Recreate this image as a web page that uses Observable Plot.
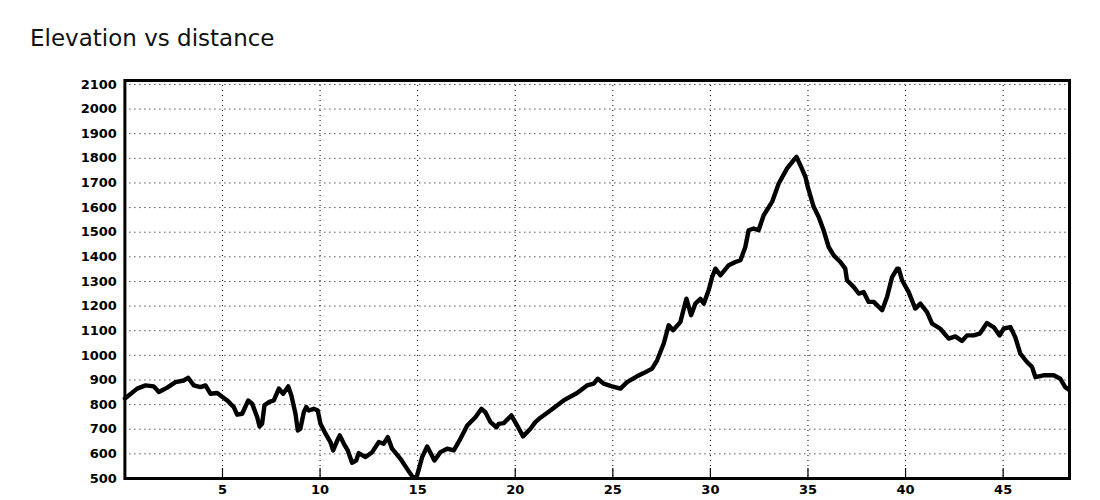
<!DOCTYPE html>
<html>
<head>
<meta charset="utf-8">
<script src="https://cdn.jsdelivr.net/npm/d3@7"></script>
<script src="https://cdn.jsdelivr.net/npm/@observablehq/plot@0.6"></script>
<style>
  html, body { margin: 0; padding: 0; background: #fff; }
  #wrap { position: relative; width: 1100px; height: 500px; overflow: hidden; }
  #title { position: absolute; left: 30px; top: 27px; font: 23px/23px "DejaVu Sans", sans-serif; color: #111; white-space: nowrap; }
  #chart { position: absolute; left: 0; top: 60px; }
</style>
</head>
<body>
<div id="wrap">
  <div id="title">Elevation vs distance</div>
  <div id="chart"></div>
</div>
<script>
const titleText = "Elevation vs distance";
const distanceKm = [0,0.63,1.06,1.48,1.74,2.17,2.59,3.02,3.24,3.53,3.87,4.13,4.39,4.73,5.24,5.58,5.75,6.01,6.32,6.52,6.78,6.9,7.03,7.15,7.37,7.63,7.89,8.11,8.37,8.53,8.74,8.86,8.99,9.17,9.29,9.42,9.68,9.88,10.02,10.28,10.53,10.67,10.88,11.01,11.22,11.42,11.64,11.85,11.98,12.33,12.67,13.01,13.26,13.47,13.69,14.12,14.46,14.77,14.97,15.23,15.49,15.86,16.17,16.51,16.85,17.19,17.54,17.96,18.27,18.47,18.73,19.04,19.15,19.41,19.72,19.8,20.1,20.4,20.78,21.03,21.29,21.8,22.48,23.17,23.68,24.02,24.23,24.53,24.96,25.39,25.73,26.24,26.58,27.01,27.27,27.61,27.86,28.09,28.46,28.77,29.01,29.23,29.49,29.66,29.91,30.09,30.26,30.51,30.94,31.28,31.54,31.79,31.96,32.22,32.47,32.73,33.16,33.5,33.93,34.27,34.41,34.61,34.87,34.99,35.29,35.55,35.8,36.06,36.32,36.66,36.91,37.0,37.34,37.6,37.85,38.11,38.37,38.8,39.05,39.31,39.57,39.65,39.82,40.16,40.5,40.76,41.1,41.36,41.78,42.21,42.55,42.89,43.15,43.49,43.8,44.17,44.51,44.82,45.03,45.37,45.62,45.88,46.22,46.48,46.65,47.07,47.59,47.93,48.18,48.33];
const elevationM = [825,865,878,874,851,869,891,898,909,878,871,878,844,847,817,790,759,763,817,804,749,711,722,797,810,817,865,844,874,837,763,695,702,770,790,776,783,776,722,682,648,614,654,675,641,614,564,573,603,587,607,648,641,668,621,580,539,503,512,587,630,573,607,621,614,661,715,749,783,769,729,708,722,725,749,756,715,671,702,729,747,776,817,847,878,885,905,885,874,865,891,915,928,946,980,1048,1122,1102,1135,1230,1163,1210,1230,1210,1264,1318,1352,1325,1366,1379,1386,1440,1508,1515,1508,1569,1623,1698,1759,1793,1806,1772,1725,1684,1603,1562,1508,1440,1406,1379,1352,1305,1278,1251,1257,1217,1217,1183,1237,1318,1352,1352,1305,1257,1190,1210,1176,1129,1108,1068,1077,1058,1081,1081,1088,1131,1115,1081,1109,1115,1074,1007,973,953,912,919,919,905,871,862];
const xTicks = [5,10,15,20,25,30,35,40,45];
const yTicks = [500,600,700,800,900,1000,1100,1200,1300,1400,1500,1600,1700,1800,1900,2000,2100];
const xDomain = [0, 48.4];
const yDomain = [500, 2116];

const profile = distanceKm.map((d, i) => ({distance: d, elevation: elevationM[i]}));

const font = '"DejaVu Sans", sans-serif';
const chart = Plot.plot({
  width: 1100,
  height: 440,
  marginTop: 20,
  marginBottom: 22,
  marginLeft: 124.4,
  marginRight: 31,
  style: {fontFamily: font, fontSize: "13px", fontWeight: "bold", color: "#000", background: "#fff"},
  x: {domain: xDomain},
  y: {domain: yDomain},
  marks: [
    Plot.gridX(xTicks, {stroke: "#000", strokeOpacity: 1, strokeDasharray: "1,4"}),
    Plot.gridY(yTicks, {stroke: "#000", strokeOpacity: 1, strokeDasharray: "1,4"}),
    Plot.line(profile, {x: "distance", y: "elevation", stroke: "#000", strokeWidth: 4.4, strokeLinejoin: "round", strokeLinecap: "round"}),
    Plot.axisX(xTicks, {tickSize: -10, text: null, label: null, stroke: "#000", strokeWidth: 1.2}),
    Plot.axisX(xTicks, {tickSize: 0, tickPadding: 6, tickFormat: d => String(d), label: null, fontSize: 13, fontWeight: "bold", fill: "#000"}),
    Plot.axisY(yTicks, {tickSize: 0, tickPadding: 8, tickFormat: d => String(d), label: null, fontSize: 13, fontWeight: "bold", fill: "#000"}),
    Plot.frame({stroke: "#000", strokeWidth: 3})
  ]
});
document.getElementById("chart").appendChild(chart);
</script>
</body>
</html>
